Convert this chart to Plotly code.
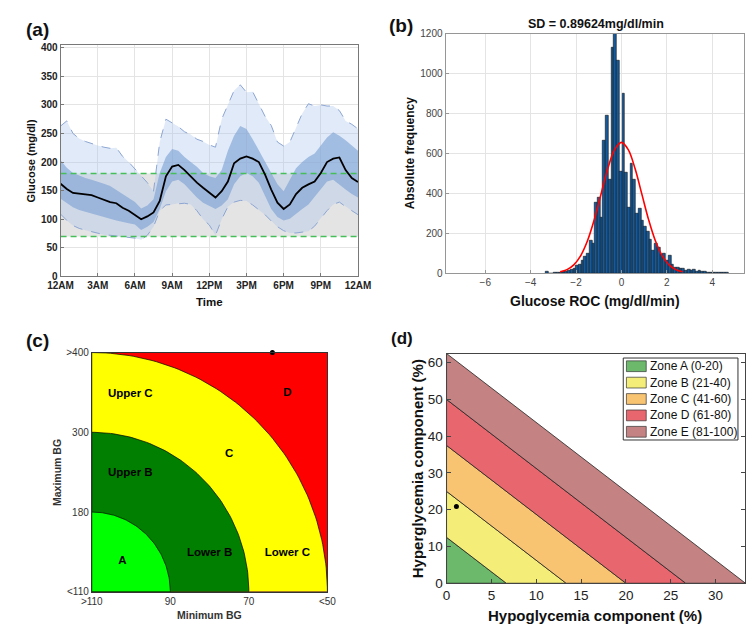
import numpy as np
import plotly.graph_objects as go

W, H = 756, 629
FONT = "Liberation Sans, Arial, sans-serif"

# ---------------- (a) ambulatory glucose profile ----------------
HOURS = [i * 0.5 for i in range(49)]
P50 = [162, 153, 146, 145, 144, 142, 138, 134, 130, 128, 120, 115, 107, 100, 105, 112, 132, 175,
       192, 195, 186, 175, 164, 155, 146, 138, 149, 166, 198, 206, 210, 206, 200, 178, 152, 129,
       118, 126, 144, 155, 161, 166, 181, 200, 206, 208, 186, 172, 165]
P75 = [203, 190, 181, 176, 172, 169, 166, 162, 158, 151, 144, 137, 130, 119, 124, 135, 181, 209,
       223, 220, 209, 200, 192, 181, 175, 172, 186, 220, 246, 263, 258, 240, 220, 200, 181, 161,
       149, 169, 189, 200, 209, 215, 229, 243, 252, 246, 238, 229, 220]
P25 = [136, 128, 121, 116, 112, 110, 107, 104, 101, 98, 95, 93, 91, 81, 87, 95, 118, 149,
       166, 169, 161, 149, 138, 129, 124, 118, 124, 135, 161, 175, 181, 175, 164, 141, 118, 104,
       98, 101, 109, 118, 126, 138, 152, 166, 169, 161, 152, 144, 138]
P95 = [263, 272, 250, 241, 236, 232, 229, 226, 224, 225, 210, 200, 188, 175, 164, 149, 235, 275,
       268, 262, 253, 248, 240, 236, 230, 226, 275, 300, 325, 335, 322, 323, 300, 280, 264, 235,
       228, 235, 260, 285, 302, 298, 300, 298, 298, 290, 272, 266, 258]
P5 = [109, 98, 89, 84, 81, 78, 75, 73, 72, 71, 70, 68, 67, 64, 72, 87, 115, 125,
      126, 128, 128, 126, 115, 100, 90, 72, 100, 122, 130, 133, 132, 125, 116, 108, 97, 87,
      80, 76, 76, 77, 79, 88, 102, 115, 126, 130, 122, 115, 108]
TARGET = [70, 180]
HOUR_TICKS = [0, 3, 6, 9, 12, 15, 18, 21, 24]
HOUR_LABELS = ["12AM", "3AM", "6AM", "9AM", "12PM", "3PM", "6PM", "9PM", "12AM"]

# ---------------- (b) histogram of glucose rate of change ----------------
BIN_START = -3.33
BIN_WIDTH = 0.12
COUNTS = [8, 0, 0, 2, 3, 5, 6, 10, 12, 18, 22, 36, 45, 65, 85, 100, 164, 150, 355, 380,
          281, 665, 788, 469, 1131, 1200, 1066, 510, 902, 505, 330, 547, 470, 300, 322, 265,
          232, 209, 167, 111, 150, 126, 93, 98, 61, 90, 44, 28, 30, 23, 25, 15, 18, 14, 16,
          10, 12, 8, 6, 5, 3, 4, 2, 2, 1, 3, 4]
FIT_X = [-2.7, -2.4, -2.1, -1.8, -1.5, -1.2, -0.9, -0.6, -0.3, 0, 0.3, 0.6, 0.9, 1.2, 1.5, 1.8, 2.1, 2.4, 2.7]
FIT_Y = [7, 18, 42, 87, 161, 267, 396, 524, 619, 655, 619, 524, 396, 267, 161, 87, 42, 18, 7]

# ---------------- (c) zone plot ----------------
ZONE_RADII = [3, 2, 1]
ZONE_COLORS = ["#ffff00", "#007f00", "#00ff00"]
MIN_BG_LABELS = [">110", "90", "70", "<50"]
MAX_BG_LABELS = ["<110", "180", "300", ">400"]
C_TEXT = ["Upper C", "D", "C", "Upper B", "A", "Lower B", "Lower C"]
C_TEXT_X = [0.49, 2.49, 1.75, 0.49, 0.39, 1.50, 2.49]
C_TEXT_Y = [2.48, 2.49, 1.73, 1.49, 0.39, 0.48, 0.48]
C_POINT = (2.3, 3.0)

# ---------------- (d) GRI grid ----------------
GRI_EDGES = [0, 20, 40, 60, 80, 100]
HYPO_W, HYPER_W = 3.0, 1.6
GRI_NAMES = ["Zone A (0-20)", "Zone B (21-40)", "Zone C (41-60)", "Zone D (61-80)", "Zone E (81-100)"]
GRI_COLORS = ["#6cb96c", "#f4ee78", "#f8c472", "#e8666d", "#c48283"]
D_POINT = (1.1, 20.9)


def dom(a, b, size):
    return [a / size, b / size]


def ydom(top, bottom):
    return [1 - bottom / H, 1 - top / H]


fig = go.Figure()

# (a)
fig.add_trace(go.Scatter(x=[0, 24, 24, 0, 0], y=[TARGET[0], TARGET[0], TARGET[1], TARGET[1], TARGET[0]],
                         fill="toself", fillcolor="rgb(228,228,228)", line=dict(width=0),
                         mode="lines", showlegend=False, hoverinfo="skip", xaxis="x", yaxis="y"))
fig.add_trace(go.Scatter(x=HOURS + HOURS[::-1], y=P95 + P5[::-1], fill="toself",
                         fillcolor="rgba(170,195,235,0.35)", line=dict(width=0), mode="lines",
                         showlegend=False, hoverinfo="skip", xaxis="x", yaxis="y"))
fig.add_trace(go.Scatter(x=HOURS + HOURS[::-1], y=P75 + P25[::-1], fill="toself",
                         fillcolor="rgba(120,158,212,0.6)", line=dict(width=0), mode="lines",
                         showlegend=False, hoverinfo="skip", xaxis="x", yaxis="y"))
for p in (P95, P5):
    fig.add_trace(go.Scatter(x=HOURS, y=p, mode="lines", line=dict(color="rgb(140,165,210)", width=1, dash="dash"),
                             showlegend=False, xaxis="x", yaxis="y"))
for v in TARGET:
    fig.add_trace(go.Scatter(x=[0, 24], y=[v, v], mode="lines",
                             line=dict(color="rgb(70,190,90)", width=1.5, dash="6px,4px"),
                             showlegend=False, xaxis="x", yaxis="y"))
fig.add_trace(go.Scatter(x=HOURS, y=P50, mode="lines", line=dict(color="black", width=1.8),
                         showlegend=False, xaxis="x", yaxis="y"))

# (b)
centers = [BIN_START + BIN_WIDTH * (i + 0.5) for i in range(len(COUNTS))]
fig.add_trace(go.Bar(x=centers, y=COUNTS, width=BIN_WIDTH, marker=dict(color="#145a9c", line=dict(color="#111", width=0.6)),
                     showlegend=False, xaxis="x2", yaxis="y2"))
fig.add_trace(go.Scatter(x=FIT_X, y=FIT_Y, mode="lines", line=dict(color="red", width=1.6, shape="spline"),
                         showlegend=False, xaxis="x2", yaxis="y2"))

# (c)
fig.add_trace(go.Scatter(x=[0, 3, 3, 0, 0], y=[0, 0, 3, 3, 0], fill="toself", fillcolor="#ff0000",
                         line=dict(width=0), mode="lines", showlegend=False, hoverinfo="skip",
                         xaxis="x3", yaxis="y3"))
theta = np.linspace(0, np.pi / 2, 80)
for r, col in zip(ZONE_RADII, ZONE_COLORS):
    xs = [0] + list(r * np.cos(theta)) + [0]
    ys = [0] + list(r * np.sin(theta)) + [0]
    fig.add_trace(go.Scatter(x=xs, y=ys, fill="toself", fillcolor=col, mode="lines",
                             line=dict(color="black", width=0.7), showlegend=False, hoverinfo="skip",
                             xaxis="x3", yaxis="y3"))
fig.add_trace(go.Scatter(x=C_TEXT_X, y=C_TEXT_Y, text=C_TEXT, mode="text",
                         textfont=dict(family=FONT, size=11.5, color="black", weight="bold"),
                         showlegend=False, xaxis="x3", yaxis="y3"))
fig.add_trace(go.Scatter(x=[C_POINT[0]], y=[C_POINT[1]], mode="markers", cliponaxis=False,
                         marker=dict(color="black", size=5), showlegend=False, xaxis="x3", yaxis="y3"))

# (d)
for lo, hi, name, col in zip(GRI_EDGES[:-1], GRI_EDGES[1:], GRI_NAMES, GRI_COLORS):
    xs = [0, 0, hi / HYPO_W, lo / HYPO_W, 0]
    ys = [lo / HYPER_W, hi / HYPER_W, 0, 0, lo / HYPER_W]
    fig.add_trace(go.Scatter(x=xs, y=ys, fill="toself", fillcolor=col, mode="lines",
                             line=dict(color="#222", width=0.8), name=name, showlegend=False,
                             hoverinfo="skip", xaxis="x4", yaxis="y4"))
fig.add_trace(go.Scatter(x=[D_POINT[0]], y=[D_POINT[1]], mode="markers",
                         marker=dict(color="black", size=5), showlegend=False, xaxis="x4", yaxis="y4"))

grid = "rgb(228,228,228)"
axis_gray = "rgb(120,120,120)"
fig.update_layout(
    width=W, height=H, autosize=False, margin=dict(l=0, r=0, t=0, b=0),
    paper_bgcolor="white", plot_bgcolor="white", font=dict(family=FONT, color="#222"),
    bargap=0, showlegend=False,
    xaxis=dict(domain=dom(41, 349, W), range=[0, 24], tickvals=HOUR_TICKS, ticktext=HOUR_LABELS,
               showgrid=True, gridcolor=grid, zeroline=False, showline=True, mirror=True,
               linecolor=axis_gray, linewidth=1, ticks="inside", ticklen=3, tickcolor=axis_gray,
               tickfont=dict(size=10, weight="bold", color="#222"), anchor="y"),
    yaxis=dict(domain=ydom(32.5, 269), range=[0, 405], tickvals=list(range(0, 401, 50)),
               showgrid=True, gridcolor=grid, zeroline=False, showline=True, mirror=True,
               linecolor=axis_gray, linewidth=1, ticks="inside", ticklen=3, tickcolor=axis_gray,
               tickfont=dict(size=10, weight="bold", color="#222"), anchor="x"),
    xaxis2=dict(domain=dom(439.7, 748.7, W), range=[-7.75, 5.4], tickvals=[-6, -4, -2, 0, 2, 4],
                showgrid=True, gridcolor=grid, zeroline=False, showline=True, mirror=True,
                linecolor="rgb(150,150,150)", ticks="inside", ticklen=3, tickcolor="rgb(150,150,150)",
                tickfont=dict(size=10, color="#444"), anchor="y2"),
    yaxis2=dict(domain=ydom(21, 265.7), range=[0, 1200], tickvals=list(range(0, 1201, 200)),
                showgrid=True, gridcolor=grid, zeroline=False, showline=True, mirror=True,
                linecolor="rgb(150,150,150)", ticks="inside", ticklen=3, tickcolor="rgb(150,150,150)",
                tickfont=dict(size=10, color="#444"), anchor="x2"),
    xaxis3=dict(domain=dom(73.3, 317.3, W), range=[0, 3], tickvals=[0, 1, 2, 3], ticktext=MIN_BG_LABELS,
                showgrid=False, zeroline=False, showline=True, mirror=True, linecolor="#333",
                ticks="", tickfont=dict(size=10, color="#333"), anchor="y3"),
    yaxis3=dict(domain=ydom(346.7, 591), range=[0, 3], tickvals=[0, 1, 2, 3], ticktext=MAX_BG_LABELS,
                showgrid=False, zeroline=False, showline=True, mirror=True, linecolor="#333",
                ticks="", tickfont=dict(size=10, color="#333"), anchor="x3"),
    xaxis4=dict(domain=dom(440.7, 750.3, W), range=[0, 100 / HYPO_W], tickvals=list(range(0, 31, 5)),
                showgrid=False, zeroline=False, showline=True, mirror=True, linecolor="#444",
                ticks="inside", ticklen=4, tickcolor="#444", tickfont=dict(size=13.5, color="#222"),
                anchor="y4"),
    yaxis4=dict(domain=ydom(347.7, 582.3), range=[0, 100 / HYPER_W], tickvals=list(range(0, 61, 10)),
                showgrid=False, zeroline=False, showline=True, mirror="ticks", linecolor="#444",
                ticks="inside", ticklen=4, tickcolor="#444", tickfont=dict(size=13.5, color="#222"),
                anchor="x4"),
)

# legend box for (d), drawn by hand to match the compact MATLAB legend
LEG_LEFT, LEG_TOP, LEG_RIGHT, LEG_BOTTOM = 623.7, 352.3, 742.5, 436
row_h = (LEG_BOTTOM - LEG_TOP) / len(GRI_NAMES)
fig.add_shape(type="rect", xref="paper", yref="paper", x0=LEG_LEFT / W, x1=LEG_RIGHT / W,
              y0=1 - LEG_BOTTOM / H, y1=1 - LEG_TOP / H, fillcolor="white", line=dict(color="#333", width=1))
for i, (name, col) in enumerate(zip(GRI_NAMES, GRI_COLORS)):
    cy = LEG_TOP + row_h * (i + 0.5)
    fig.add_shape(type="rect", xref="paper", yref="paper", x0=627 / W, x1=647.5 / W,
                  y0=1 - (cy + 5.5) / H, y1=1 - (cy - 5.5) / H, fillcolor=col,
                  line=dict(color="#333", width=0.7))
    fig.add_annotation(text=name, x=649 / W, y=1 - cy / H, xref="paper", yref="paper", showarrow=False,
                       xanchor="left", yanchor="middle", font=dict(family=FONT, size=12, color="#111"))


def note(text, px, py, size, bold=True, angle=0, xanchor="center", color="#111"):
    fig.add_annotation(text=text, x=px / W, y=1 - py / H, xref="paper", yref="paper",
                       showarrow=False, textangle=angle, xanchor=xanchor, yanchor="middle",
                       font=dict(family=FONT, size=size, color=color, weight="bold" if bold else "normal"))


note("(a)", 3, 17, 19, xanchor="left")
note("(b)", 379, 13, 19, xanchor="left")
note("(c)", 3, 334, 19, xanchor="left")
note("(d)", 381, 332, 17, xanchor="left")
note("Time", 195, 295, 11.5)
note("Glucose (mg/dl)", 10, 151, 11, angle=-90)
note("SD = 0.89624mg/dl/min", 595, 11, 12.5)
note("Absolute frequency", 403, 143, 12, angle=-90)
note("Glucose ROC (mg/dl/min)", 594, 294, 14)
note("Minimum BG", 195, 615, 10.5, color="#333")
note("Maximum BG", 38, 469, 10.5, angle=-90, color="#333")
note("Hypoglycemia component (%)", 594, 615, 15)
note("Hyperglycemia component (%)", 410, 465, 15, angle=-90)

fig.write_html("out.html")
